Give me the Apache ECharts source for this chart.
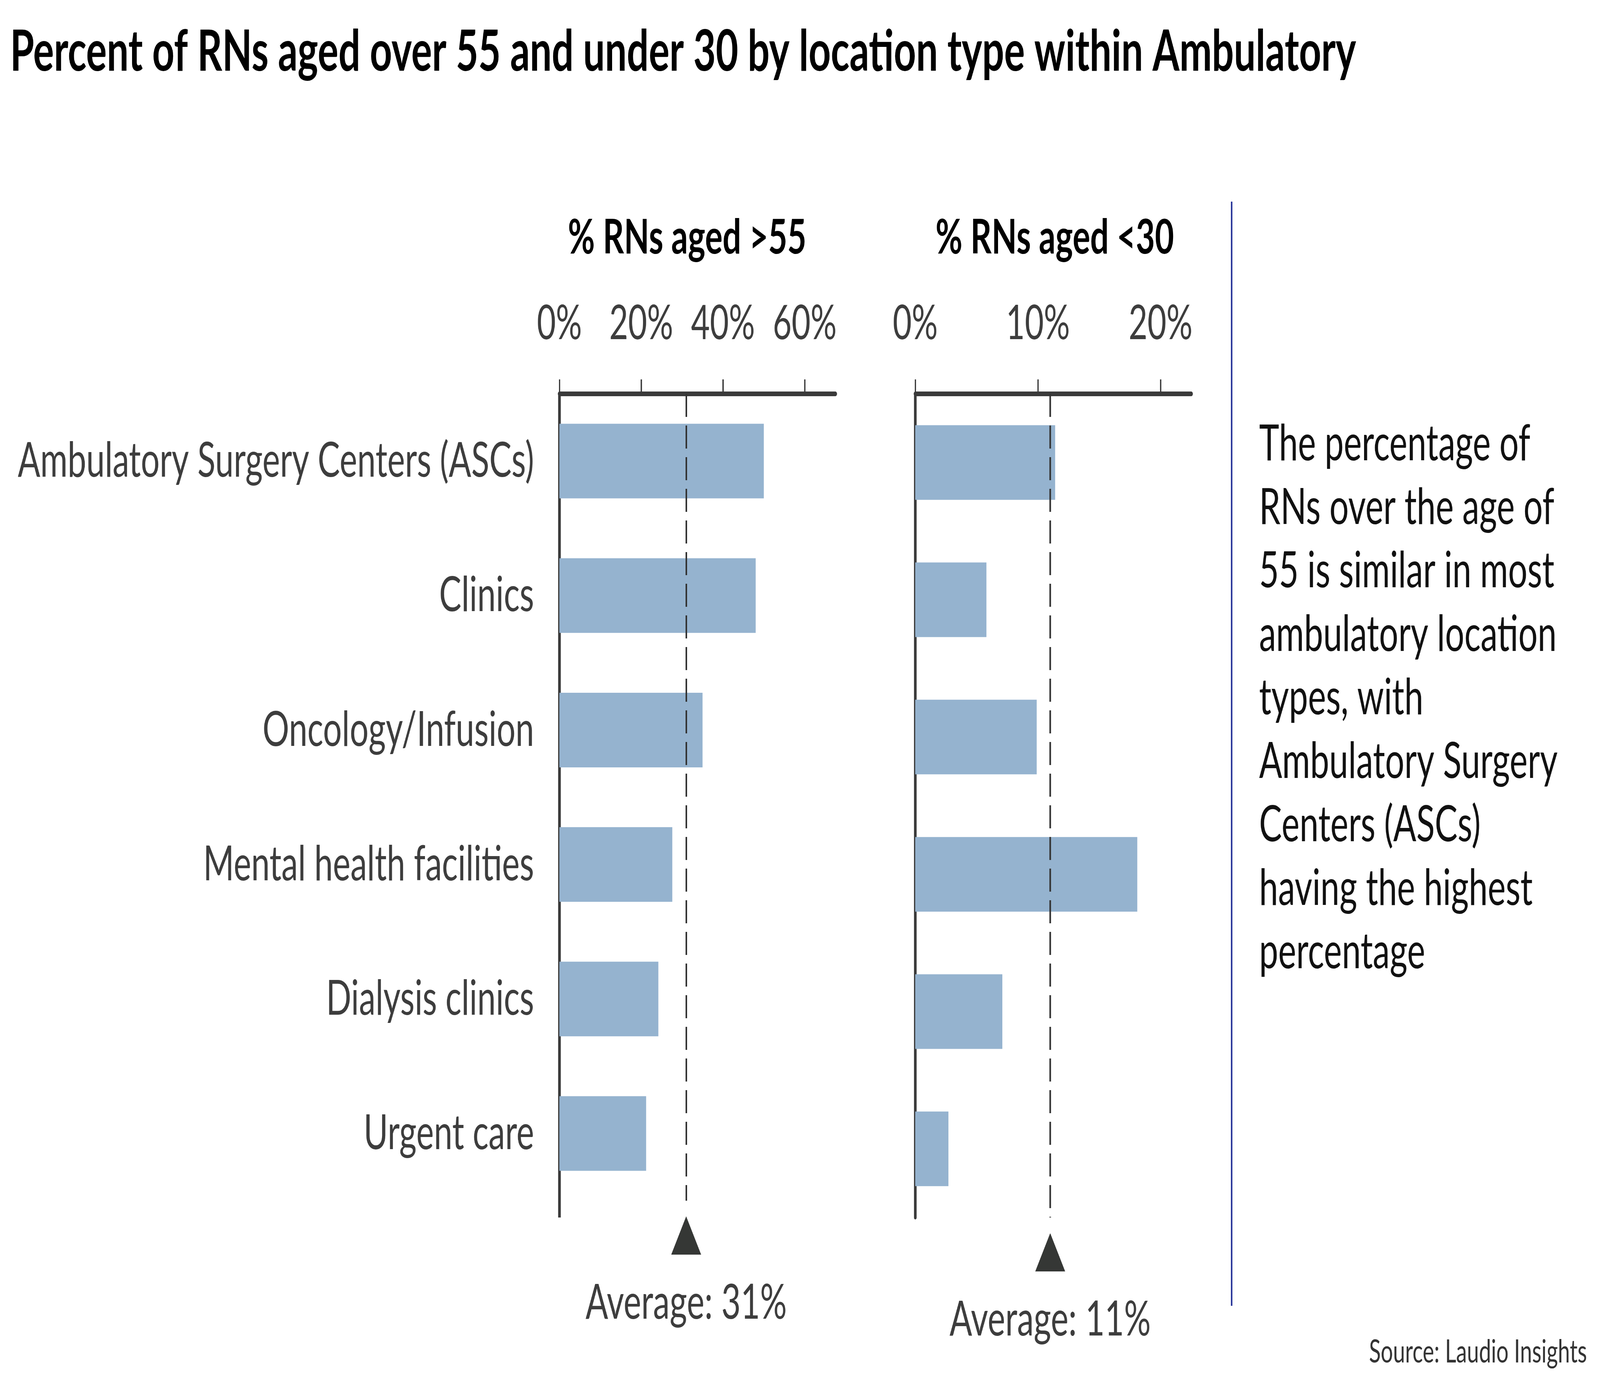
<!DOCTYPE html>
<html><head><meta charset="utf-8">
<script src="https://cdn.jsdelivr.net/npm/echarts@6/dist/echarts.min.js"></script>
<style>html,body{margin:0;padding:0;background:#fff;overflow:hidden}#c{width:5989px;height:3537px;transform-origin:0 0}</style>
</head><body><div id="c"></div>
<script>
// ---------- data ----------
const categories = ['Ambulatory Surgery Centers (ASCs)', 'Clinics', 'Oncology/Infusion', 'Mental health facilities', 'Dialysis clinics', 'Urgent care'];
const over55Values = [50, 48, 35, 27.6, 24.2, 21.2];
const under30Values = [11.4, 5.8, 9.9, 18.1, 7.1, 2.7];
const averageOver55 = 31;
const averageUnder30 = 11;
const over55Ticks = [0, 20, 40, 60];
const under30Ticks = [0, 10, 20];
const panelTitles = ['% RNs aged >55', '% RNs aged <30'];
const titleText = 'Percent of RNs aged over 55 and under 30 by location type within Ambulatory';
const noteLines = ['The percentage of', 'RNs over the age of', '55 is similar in most', 'ambulatory location', 'types, with', 'Ambulatory Surgery', 'Centers (ASCs)', 'having the highest', 'percentage'];
const sourceText = 'Source: Laudio Insights';

// ---------- style / layout (5989 x 3537 design space, fitted to the window) ----------
const W = 5989, H = 3537;
const FONT = 'Lato';
const DARK = '#3a3a3a';
const LABEL = '#3d3d3d';
const BAR = '#95B3CF';

const el = document.getElementById('c');
const fx = window.innerWidth / W, fy = window.innerHeight / H;
if (Math.abs(fx - 1) > 0.001 || Math.abs(fy - 1) > 0.001) {
  el.style.transform = 'scale(' + fx + ',' + fy + ')';
}

const chart = echarts.init(el, null, {renderer: 'canvas', width: W, height: H});

const G0 = {left: 2094, top: 1008, width: 1033, height: 2065};
const G1 = {left: 3426, top: 1008, width: 1033, height: 2108};
const AXIS_BOTTOM = 3116;

function xAxisCfg(gi, max, ticks) {
  return {
    type: 'value', gridIndex: gi, position: 'top', min: 0, max: max,
    axisLine: {show: true, lineStyle: {color: DARK, width: 12}},
    axisTick: {show: true, length: 37, customValues: ticks, lineStyle: {color: DARK, width: 5}},
    axisLabel: {show: true, customValues: ticks, formatter: '{value}%', fontFamily: FONT, fontSize: 122, color: LABEL, margin: 118},
    splitLine: {show: false}
  };
}
function yAxisCfg(gi, showLabel) {
  return {
    type: 'category', gridIndex: gi, data: categories, inverse: true,
    axisLine: {show: true, lineStyle: {color: DARK, width: 10}},
    axisTick: {show: false},
    axisLabel: {show: showLabel, fontFamily: FONT, fontSize: 124.5, color: LABEL, margin: 95},
    splitLine: {show: false}
  };
}
function barSeries(idx, values, avg) {
  return {
    type: 'bar', xAxisIndex: idx, yAxisIndex: idx, data: values, barWidth: 191,
    itemStyle: {color: BAR}, silent: true,
    markLine: {
      silent: true, symbol: 'none', animation: false,
      label: {show: false},
      lineStyle: {color: '#333', width: 6, type: [59, 22]},
      data: [{xAxis: avg}]
    }
  };
}

chart.setOption({
  animation: false,
  backgroundColor: '#fff',
  textStyle: {fontFamily: FONT},
  grid: [
    Object.assign({containLabel: false}, G0),
    Object.assign({containLabel: false}, G1)
  ],
  xAxis: [xAxisCfg(0, 67.5, over55Ticks), xAxisCfg(1, 22.5, under30Ticks)],
  yAxis: [yAxisCfg(0, true), yAxisCfg(1, false)],
  series: [barSeries(0, over55Values, averageOver55), barSeries(1, under30Values, averageUnder30)]
});

const ax0 = chart.convertToPixel({xAxisIndex: 0}, averageOver55);
const ax1 = chart.convertToPixel({xAxisIndex: 1}, averageUnder30);
const zero0 = chart.convertToPixel({xAxisIndex: 0}, 0);
const bottom0 = G0.top + G0.height;
const bottom1 = G1.top + G1.height;

function avgMarker(x, gridBottom, value) {
  return [
    {type: 'polygon', silent: true, shape: {points: [[x, gridBottom + 40], [x - 56, gridBottom + 138], [x + 56, gridBottom + 138]]}, style: {fill: '#353735'}},
    {type: 'text', silent: true, x: x, y: gridBottom + 262, style: {text: 'Average: ' + value + '%', fontFamily: FONT, fontSize: 125, fill: LABEL, align: 'center', verticalAlign: 'middle'}}
  ];
}

chart.setOption({
  graphic: [
    {type: 'text', silent: true, x: 38, y: 134, style: {text: titleText, fontFamily: FONT, fontWeight: 'bold', fontSize: 145, fill: '#000', align: 'left', verticalAlign: 'middle'}},
    {type: 'text', silent: true, x: 2572, y: 609, style: {text: panelTitles[0], fontFamily: FONT, fontWeight: 'bold', fontSize: 123, fill: '#000', align: 'center', verticalAlign: 'middle'}},
    {type: 'text', silent: true, x: 3948, y: 609, style: {text: panelTitles[1], fontFamily: FONT, fontWeight: 'bold', fontSize: 123, fill: '#000', align: 'center', verticalAlign: 'middle'}},
    {type: 'line', silent: true, shape: {x1: zero0, y1: bottom0 - 2, x2: zero0, y2: AXIS_BOTTOM}, style: {stroke: DARK, lineWidth: 10}},
    ...avgMarker(ax0, bottom0, averageOver55),
    ...avgMarker(ax1, bottom1, averageUnder30),
    {type: 'line', silent: true, shape: {x1: 4610, y1: 516, x2: 4610, y2: 3342}, style: {stroke: '#2E3B9C', lineWidth: 6}},
    {type: 'text', silent: true, x: 4713, y: 1056, style: {text: noteLines.join('\n'), fontFamily: FONT, fontSize: 127.5, lineHeight: 162.5, fill: '#111', align: 'left', verticalAlign: 'top'}},
    {type: 'text', silent: true, x: 5940, y: 3461, style: {text: sourceText, fontFamily: FONT, fontSize: 81, fill: '#333', align: 'right', verticalAlign: 'middle'}}
  ]
});
</script></body></html>
